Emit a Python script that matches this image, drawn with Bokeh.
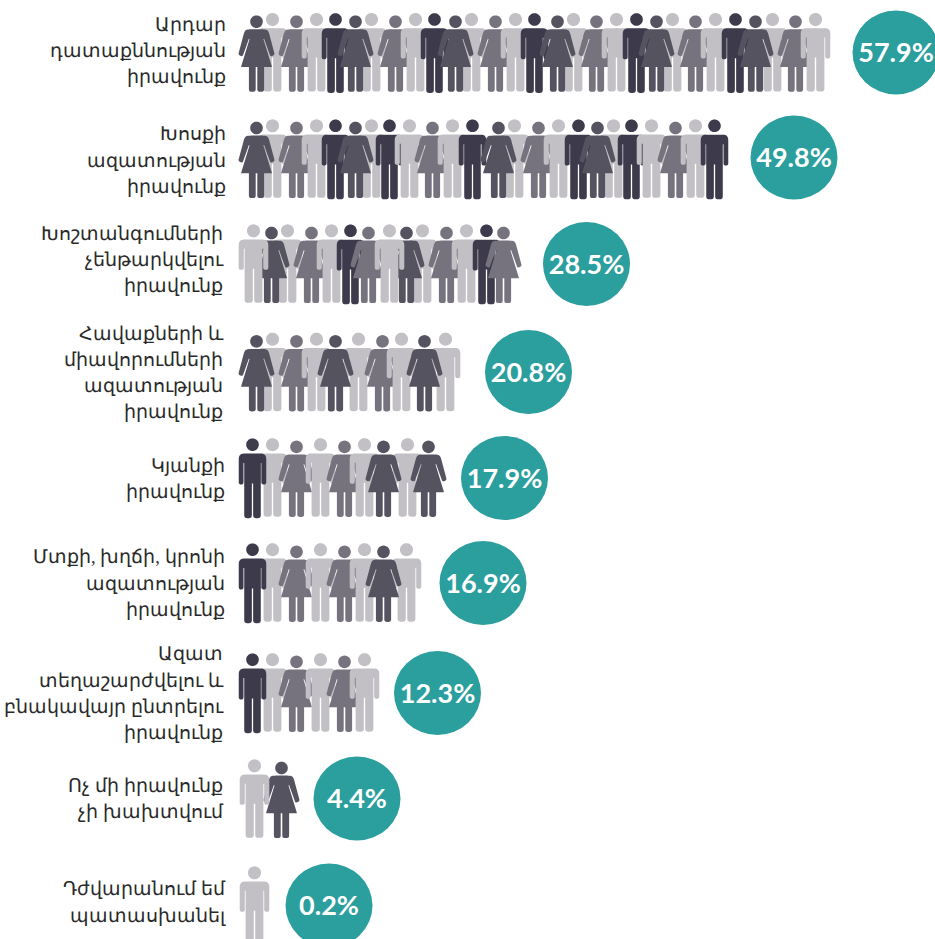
from bokeh.plotting import figure
from bokeh.models import Range1d
from bokeh.core.properties import value
from bokeh.embed import file_html
from bokeh.resources import INLINE
import math

percent_labels = ["57.9%", "49.8%", "28.5%", "20.8%", "17.9%", "16.9%", "12.3%", "4.4%", "0.2%"]

# Category labels, line by line, with line centre y and right edge
label_lines = [
    ["Արդար", "դատաքննության", "իրավունք"],
    ["Խոսքի", "ազատության", "իրավունք"],
    ["Խոշտանգումների", "չենթարկվելու", "իրավունք"],
    ["Հավաքների և", "միավորումների", "ազատության", "իրավունք"],
    ["Կյանքի", "իրավունք"],
    ["Մտքի, խղճի, կրոնի", "ազատության", "իրավունք"],
    ["Ազատ", "տեղաշարժվելու և", "բնակավայր ընտրելու", "իրավունք"],
    ["Ոչ մի իրավունք", "չի խախտվում"],
    ["Դժվարանում եմ", "պատասխանել"],
]
label_y = [
    [24, 50, 76], [133, 160, 186], [233, 259, 285], [333, 359, 385, 411],
    [465, 491], [556, 583, 609], [653, 680, 706, 732], [785, 811], [888, 915],
]
label_right = [225, 225, 222, 222, 224, 224, 222, 222, 224]

# Icon rows in drawing order: head x, kind (K man dark, L man light, D woman dark, M woman mid)
row_x = [
    [272,256,296,316,335,371,355,395,415,434,471,455,495,515,534,573,557,596,616,636,672,656,695,715,735,772,755,795,815],
    [272,256,296,316,335,371,355,389,409,432,452,472,514,498,538,558,578,613,597,631,651,675,695,714],
    [287,271,253,311,331,350,368,422,406,389,446,466,486,503],
    [272,256,296,316,358,335,382,401,445,424],
    [272,252,296,320,344,364,407,383,428],
    [272,252,296,320,344,364,406,383],
    [272,252,296,320,344,364],
    [281,254],
    [254],
]
row_kind = [
    "LDMLKLDMLKLDMLKLDMLKLDMLKLDML",
    "LDMLKLDKLMLKLDMLKLDKLMLK",
    "LDLMLKMLDLMLKM",
    "LDMLLDMLLD",
    "LKMLMLLDD",
    "LKMLMLLD",
    "LKMLML",
    "DL",
    "L",
]
row_head_y = [19, 125.3, 230.3, 338.7, 444.2, 549.2, 659.2, 765.3, 872.3]

bubble_x = [895.5, 793.5, 586, 528, 504, 482.5, 437, 356.5, 328.5]
bubble_y = [52, 157, 263.5, 371.5, 477.5, 582.5, 692.5, 798, 905]

colors = {"K": "#3c3a4b", "L": "#c2c0c5", "D": "#565360", "M": "#76737e"}
TEAL = "#2b9e9e"


def rounded(points):
    out = []
    n = len(points)
    for i in range(n):
        x, y, r = points[i]
        if r == 0:
            out.append((x, y))
            continue
        x0, y0, _ = points[i - 1]
        x1, y1, _ = points[(i + 1) % n]
        d0 = math.hypot(x0 - x, y0 - y)
        d1 = math.hypot(x1 - x, y1 - y)
        a = (x + (x0 - x) * min(r, d0 / 2) / d0, y + (y0 - y) * min(r, d0 / 2) / d0)
        b = (x + (x1 - x) * min(r, d1 / 2) / d1, y + (y1 - y) * min(r, d1 / 2) / d1)
        for k in range(7):
            t = k / 6
            out.append(((1 - t) ** 2 * a[0] + 2 * t * (1 - t) * x + t * t * b[0],
                        (1 - t) ** 2 * a[1] + 2 * t * (1 - t) * y + t * t * b[1]))
    return out


def mirrored(half):
    return half + [(-x, y, r) for x, y, r in reversed(half)]


MAN = rounded(mirrored([
    (14.8, 8.7, 5.5), (14.8, 39, 2.4), (9.7, 39, 2.4), (9.7, 18, 0), (8.9, 18, 0),
    (8.9, 72, 3), (0.7, 72, 3), (0.7, 38, 0),
]))
WOMAN = rounded(mirrored([
    (9.5, 7.6, 4), (12.0, 9.5, 3), (18.3, 33, 1.8), (14.0, 35, 1.8), (7.6, 17, 0), (7.0, 17.5, 0),
    (15.5, 45.3, 0.5), (7.6, 45.3, 0), (7.6, 70, 2.5), (0.8, 70, 2.5), (0.8, 45.3, 0),
]))

shape_spec = {
    "L": (MAN, 1.0, 1.0, 0.0, 6.5),
    "K": (MAN, 0.93, 1.02, 0.0, 6.3),
    "D": (WOMAN, 1.0, 1.0, 2.2, 6.3),
    "M": (WOMAN, 1.0, 1.0, 2.2, 6.3),
}

xs, ys, fills = [], [], []
for xrow, krow, hy in zip(row_x, row_kind, row_head_y):
    for hx, kind in zip(xrow, krow):
        shape, sx, sy, dy, hr = shape_spec[kind]
        xs.append([hx + px * sx for px, py in shape])
        ys.append([hy + dy + py * sy for px, py in shape])
        fills.append(colors[kind])
        xs.append([hx + hr * math.cos(2 * math.pi * i / 36) for i in range(36)])
        ys.append([hy + dy + hr * math.sin(2 * math.pi * i / 36) for i in range(36)])
        fills.append(colors[kind])

p = figure(width=935, height=939, x_range=Range1d(0, 935), y_range=Range1d(939, 0),
           x_axis_type=None, y_axis_type=None, toolbar_location=None,
           output_backend="svg", min_border=0, outline_line_color=None)
p.grid.visible = False

p.patches(xs, ys, fill_color=fills, line_color=None)

p.ellipse(bubble_x, bubble_y, width=87, height=84, fill_color=TEAL, line_color=None)
p.text(bubble_x, bubble_y, text=percent_labels, text_font=value("Lato"), text_font_style="bold",
       text_font_size="27px", text_color="#ffffff", text_align="center", text_baseline="middle", y_offset=-1)

tx, ty, tt = [], [], []
for lines, ypos, right in zip(label_lines, label_y, label_right):
    for s, yy in zip(lines, ypos):
        tx.append(right)
        ty.append(yy)
        tt.append(s)
p.text(tx, ty, text=tt, text_font=value("DejaVu Sans ExtraLight"), text_font_size="18.5px",
       text_color="#2a2a2a", text_align="right", text_baseline="middle")

open("out.html", "w").write(file_html(p, INLINE))
